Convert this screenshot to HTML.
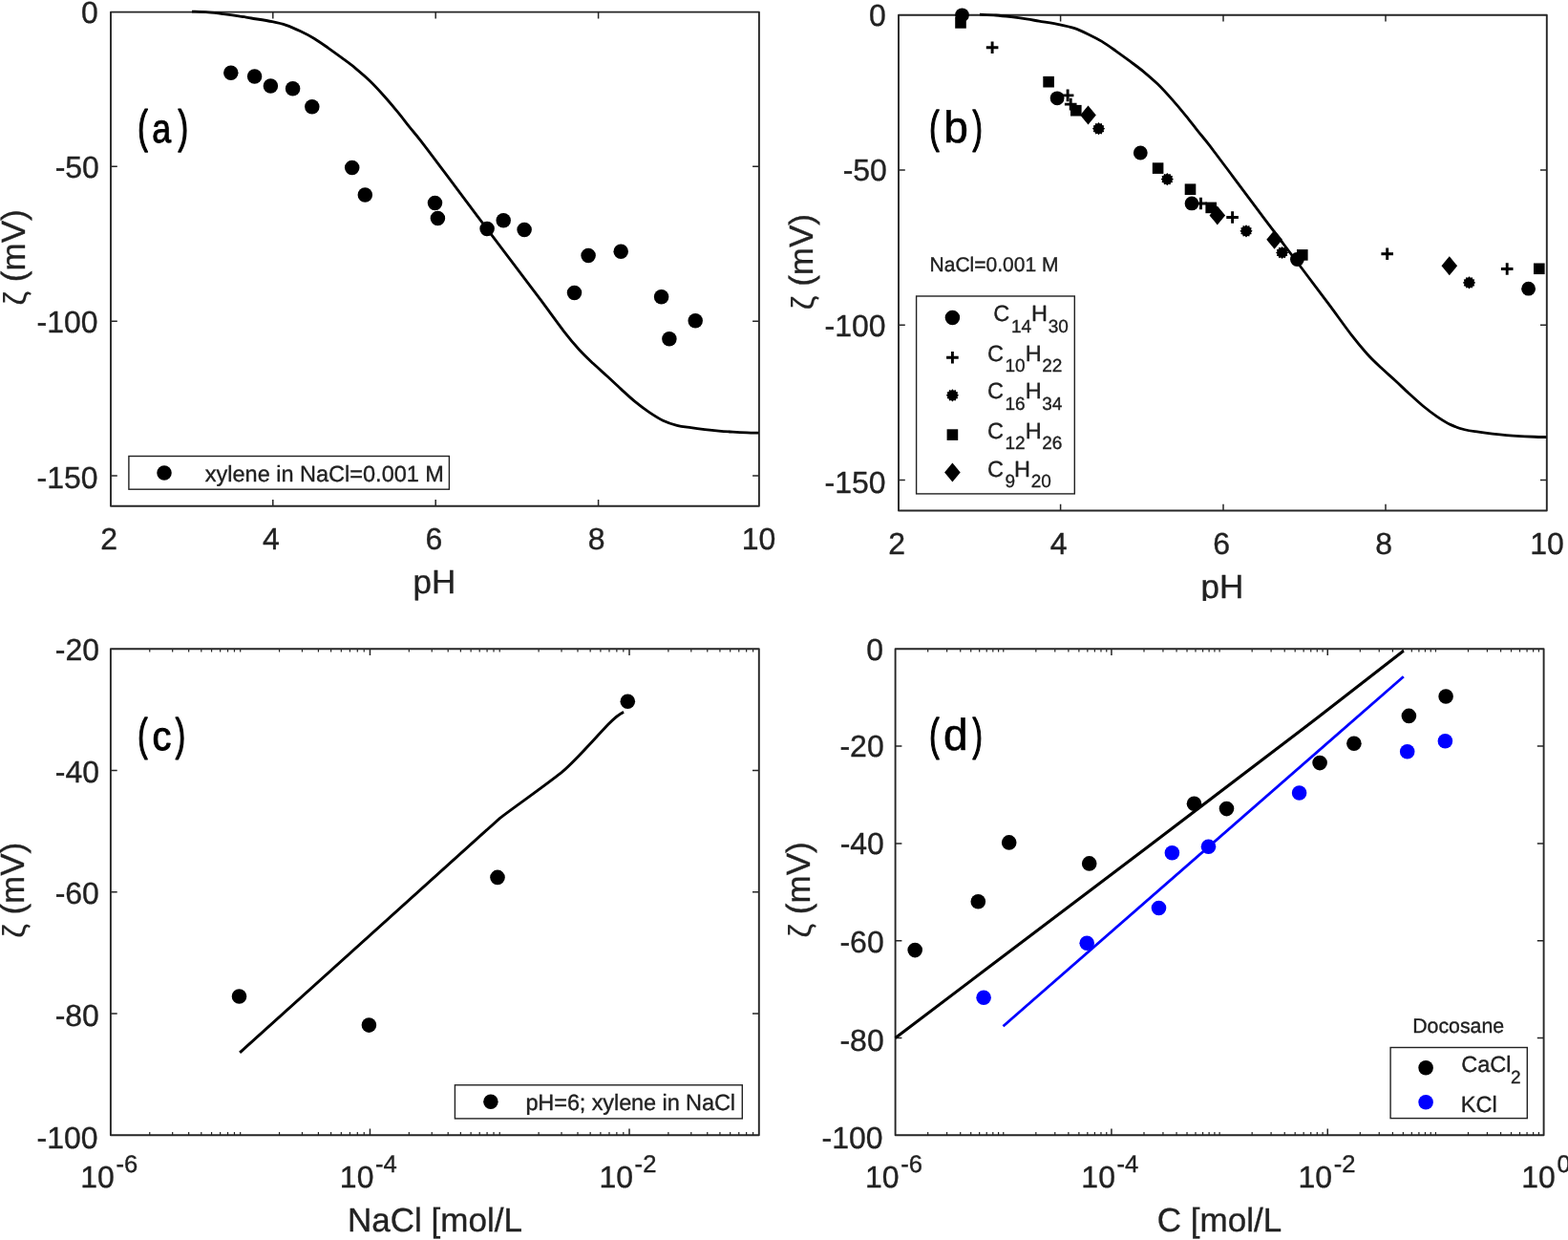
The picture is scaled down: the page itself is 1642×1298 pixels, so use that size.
<!DOCTYPE html>
<html lang="en">
<head>
<meta charset="utf-8">
<title>Zeta potential figure</title>
<style>
html,body{margin:0;padding:0;background:#fff;}
body{width:1642px;height:1298px;overflow:hidden;}
svg{display:block;font-family:'Liberation Sans', sans-serif;text-rendering:geometricPrecision;}
svg text{stroke:#1a1a1a;stroke-width:0.35px;}
</style>
</head>
<body>
<svg width="1642" height="1298" viewBox="0 0 1642 1298">
<rect width="1642" height="1298" fill="#fff"/>
<rect x="116" y="12.6" width="678.9" height="517.2" fill="none" stroke="#262626" stroke-width="1.9" stroke-linejoin="round"/>
<path d="M285.8 529.8v-6.8M285.8 12.6v6.8M456.2 529.8v-6.8M456.2 12.6v6.8M626.6 529.8v-6.8M626.6 12.6v6.8" stroke="#262626" stroke-width="1.5" fill="none"/>
<path d="M116 174.32h6.8M794.9 174.32h-6.8M116 336.25h6.8M794.9 336.25h-6.8M116 497.97h6.8M794.9 497.97h-6.8" stroke="#262626" stroke-width="1.5" fill="none"/>
<text x="102.8" y="24.4" font-size="32" text-anchor="end" fill="#222222">0</text>
<text x="103.9" y="186.32" font-size="32" text-anchor="end" fill="#222222">-50</text>
<text x="102.6" y="347.65" font-size="32" text-anchor="end" fill="#222222">-100</text>
<text x="102.6" y="511.37" font-size="32" text-anchor="end" fill="#222222">-150</text>
<text x="114.1" y="575.2" font-size="32" text-anchor="middle" fill="#222222">2</text>
<text x="283.9" y="575.2" font-size="32" text-anchor="middle" fill="#222222">4</text>
<text x="454.3" y="575.2" font-size="32" text-anchor="middle" fill="#222222">6</text>
<text x="624.7" y="575.2" font-size="32" text-anchor="middle" fill="#222222">8</text>
<text x="794.6" y="575.2" font-size="32" text-anchor="middle" fill="#222222">10</text>
<text x="454.8" y="620.8" font-size="35" text-anchor="middle" fill="#222222">pH</text>
<text transform="translate(25.6 270.9) rotate(-90)" font-size="35" text-anchor="middle" fill="#222222"><tspan font-size="33" dx="1.5" dy="1" style="stroke-width:0.1px">ζ</tspan><tspan dy="-1"> (mV)</tspan></text>
<path d="M201 12.1C203.83 12.23 212.52 12.48 218 12.9C223.48 13.32 228.57 13.95 233.9 14.6C239.23 15.25 245.13 16.07 250 16.8C254.87 17.53 257.27 18.02 263.1 19C268.93 19.98 278.92 21.48 285 22.7C291.08 23.92 294.72 24.67 299.6 26.3C304.48 27.93 309.42 30.18 314.3 32.5C319.18 34.82 324.03 37.27 328.9 40.2C333.77 43.13 338.63 46.68 343.5 50.1C348.37 53.52 353.23 57.08 358.1 60.7C362.97 64.32 367.82 67.78 372.7 71.8C377.58 75.82 382.52 80.05 387.4 84.8C392.28 89.55 397.13 94.87 402 100.3C406.87 105.73 412.07 111.88 416.6 117.4C421.13 122.92 425.13 128.32 429.2 133.4C433.27 138.48 434.97 140.1 441 147.9C447.03 155.7 455.57 167.13 465.4 180.2C475.23 193.27 487.27 209.4 500 226.3C512.73 243.2 530.77 267 541.8 281.6C552.83 296.2 558.08 303.03 566.2 313.9C574.32 324.77 583.78 338.12 590.5 346.8C597.22 355.48 601.38 360.37 606.5 366C611.62 371.63 616.32 375.97 621.2 380.6C626.08 385.23 630.93 389.33 635.8 393.8C640.67 398.27 645.53 402.97 650.4 407.4C655.27 411.83 660.13 416.4 665 420.4C669.87 424.4 674.72 428.1 679.6 431.4C684.48 434.7 689.42 437.88 694.3 440.2C699.18 442.52 704.03 444.05 708.9 445.3C713.77 446.55 718.63 446.98 723.5 447.7C728.37 448.42 733.23 449.03 738.1 449.6C742.97 450.17 747.82 450.68 752.7 451.1C757.58 451.52 762.52 451.82 767.4 452.1C772.28 452.38 777.48 452.63 782 452.8C786.52 452.97 792.42 453.05 794.5 453.1" stroke="#000" stroke-width="2.8" fill="none" stroke-linejoin="round"/>
<circle cx="241.8" cy="76.2" r="7.75" fill="#000"/>
<circle cx="266.6" cy="79.9" r="7.75" fill="#000"/>
<circle cx="283.4" cy="90.1" r="7.75" fill="#000"/>
<circle cx="306.6" cy="92.8" r="7.75" fill="#000"/>
<circle cx="326.8" cy="111.8" r="7.75" fill="#000"/>
<circle cx="368.7" cy="175.4" r="7.75" fill="#000"/>
<circle cx="382.3" cy="204.1" r="7.75" fill="#000"/>
<circle cx="455.5" cy="212.6" r="7.75" fill="#000"/>
<circle cx="458.4" cy="228.4" r="7.75" fill="#000"/>
<circle cx="510.1" cy="239.6" r="7.75" fill="#000"/>
<circle cx="527.2" cy="230.8" r="7.75" fill="#000"/>
<circle cx="549.1" cy="240.6" r="7.75" fill="#000"/>
<circle cx="601.5" cy="306.4" r="7.75" fill="#000"/>
<circle cx="616.1" cy="267.4" r="7.75" fill="#000"/>
<circle cx="650.2" cy="263.2" r="7.75" fill="#000"/>
<circle cx="692.6" cy="310.7" r="7.75" fill="#000"/>
<circle cx="700.9" cy="354.7" r="7.75" fill="#000"/>
<circle cx="728.2" cy="335.8" r="7.75" fill="#000"/>
<g fill="#000" font-size="47.9"><text style="stroke:#000;stroke-width:1.5px;stroke-linejoin:round;vector-effect:non-scaling-stroke" transform="translate(144.15 149.05) scale(0.66 1)">(</text><text style="stroke:#000;stroke-width:1.0px;stroke-linejoin:round;vector-effect:non-scaling-stroke" transform="translate(159.2 149.4) scale(0.84 1)" font-size="42.5">a</text><text style="stroke:#000;stroke-width:1.5px;stroke-linejoin:round;vector-effect:non-scaling-stroke" transform="translate(186.45 149.05) scale(0.66 1)">)</text></g>
<rect x="134.9" y="477.5" width="335.5" height="34.7" fill="#fff" stroke="#222222" stroke-width="1.4"/>
<circle cx="172" cy="495.1" r="7.75" fill="#000"/>
<text x="214.8" y="503.9" font-size="23.5" text-anchor="start" fill="#222222">xylene in NaCl=0.001 M</text>
<rect x="941" y="15.7" width="678.8" height="518.8" fill="none" stroke="#262626" stroke-width="1.9" stroke-linejoin="round"/>
<path d="M1110.6 534.5v-6.8M1110.6 15.7v6.8M1281 534.5v-6.8M1281 15.7v6.8M1451 534.5v-6.8M1451 15.7v6.8" stroke="#262626" stroke-width="1.5" fill="none"/>
<path d="M941 177.92h6.8M1619.8 177.92h-6.8M941 340.35h6.8M1619.8 340.35h-6.8M941 502.57h6.8M1619.8 502.57h-6.8" stroke="#262626" stroke-width="1.5" fill="none"/>
<text x="927.8" y="27.2" font-size="32" text-anchor="end" fill="#222222">0</text>
<text x="928.9" y="189.42" font-size="32" text-anchor="end" fill="#222222">-50</text>
<text x="927.6" y="351.75" font-size="32" text-anchor="end" fill="#222222">-100</text>
<text x="927.6" y="515.88" font-size="32" text-anchor="end" fill="#222222">-150</text>
<text x="939.1" y="580" font-size="32" text-anchor="middle" fill="#222222">2</text>
<text x="1108.7" y="580" font-size="32" text-anchor="middle" fill="#222222">4</text>
<text x="1279.1" y="580" font-size="32" text-anchor="middle" fill="#222222">6</text>
<text x="1449.1" y="580" font-size="32" text-anchor="middle" fill="#222222">8</text>
<text x="1620.1" y="580" font-size="32" text-anchor="middle" fill="#222222">10</text>
<text x="1279.9" y="625.6" font-size="35" text-anchor="middle" fill="#222222">pH</text>
<rect x="1200" y="629" width="160" height="20" fill="#fff"/>
<text transform="translate(850.6 275.6) rotate(-90)" font-size="35" text-anchor="middle" fill="#222222"><tspan font-size="33" dx="1.5" dy="1" style="stroke-width:0.1px">ζ</tspan><tspan dy="-1"> (mV)</tspan></text>
<path d="M1025.99 15.2C1028.82 15.33 1037.5 15.58 1042.98 16C1048.47 16.42 1053.55 17.05 1058.88 17.71C1064.22 18.36 1070.11 19.18 1074.98 19.91C1079.85 20.65 1082.25 21.13 1088.08 22.12C1093.91 23.11 1103.89 24.61 1109.98 25.83C1116.06 27.05 1119.69 27.8 1124.57 29.44C1129.46 31.08 1134.39 33.34 1139.27 35.66C1144.15 37.99 1149 40.44 1153.87 43.39C1158.73 46.33 1163.6 49.89 1168.47 53.32C1173.33 56.74 1178.2 60.32 1183.06 63.95C1187.93 67.58 1192.78 71.05 1197.66 75.08C1202.54 79.11 1207.48 83.36 1212.36 88.12C1217.24 92.89 1222.09 98.22 1226.96 103.67C1231.82 109.12 1237.02 115.29 1241.56 120.82C1246.09 126.36 1250.09 131.77 1254.15 136.87C1258.22 141.97 1259.92 143.59 1265.95 151.42C1271.98 159.24 1280.52 170.71 1290.35 183.82C1300.18 196.93 1312.21 213.11 1324.94 230.06C1337.67 247.01 1355.71 270.89 1366.74 285.53C1377.77 300.18 1383.02 307.03 1391.13 317.93C1399.25 328.83 1408.71 342.22 1415.43 350.93C1422.15 359.64 1426.31 364.54 1431.43 370.19C1436.54 375.84 1441.24 380.19 1446.13 384.84C1451.01 389.49 1455.86 393.6 1460.72 398.08C1465.59 402.56 1470.46 407.27 1475.32 411.72C1480.19 416.17 1485.05 420.75 1489.92 424.76C1494.79 428.77 1499.63 432.49 1504.52 435.8C1509.4 439.11 1514.33 442.3 1519.21 444.62C1524.1 446.95 1528.95 448.48 1533.81 449.74C1538.68 450.99 1543.54 451.43 1548.41 452.15C1553.28 452.86 1558.14 453.48 1563.01 454.05C1567.87 454.62 1572.72 455.14 1577.61 455.56C1582.49 455.97 1587.42 456.28 1592.3 456.56C1597.19 456.84 1602.39 457.09 1606.9 457.26C1611.42 457.43 1617.32 457.51 1619.4 457.56" stroke="#000" stroke-width="2.8" fill="none" stroke-linejoin="round"/>
<circle cx="1007.5" cy="15.8" r="7.4" fill="#000"/>
<circle cx="1107.1" cy="102.8" r="7.4" fill="#000"/>
<circle cx="1194.3" cy="160" r="7.4" fill="#000"/>
<circle cx="1248" cy="212.9" r="7.4" fill="#000"/>
<circle cx="1358.4" cy="271.5" r="7.4" fill="#000"/>
<circle cx="1600.6" cy="302.2" r="7.4" fill="#000"/>
<rect x="1000.2" y="18.1" width="11.6" height="11.6" fill="#000"/>
<rect x="1092.3" y="79.9" width="11.6" height="11.6" fill="#000"/>
<rect x="1121" y="109.9" width="11.6" height="11.6" fill="#000"/>
<rect x="1206.8" y="170.3" width="11.6" height="11.6" fill="#000"/>
<rect x="1240.7" y="192.4" width="11.6" height="11.6" fill="#000"/>
<rect x="1262.4" y="211.6" width="11.6" height="11.6" fill="#000"/>
<rect x="1358" y="261.1" width="11.6" height="11.6" fill="#000"/>
<rect x="1606" y="275.5" width="11.6" height="11.6" fill="#000"/>
<path d="M1032.8 49.7h12.6M1039.1 43.4v12.6" stroke="#000" stroke-width="2.9" fill="none"/>
<path d="M1111.8 99.9h12.6M1118.1 93.6v12.6" stroke="#000" stroke-width="2.9" fill="none"/>
<path d="M1114.9 109.1h12.6M1121.2 102.8v12.6" stroke="#000" stroke-width="2.9" fill="none"/>
<path d="M1251.2 213h12.6M1257.5 206.7v12.6" stroke="#000" stroke-width="2.9" fill="none"/>
<path d="M1284.3 227.5h12.6M1290.6 221.2v12.6" stroke="#000" stroke-width="2.9" fill="none"/>
<path d="M1446.4 265.7h12.6M1452.7 259.4v12.6" stroke="#000" stroke-width="2.9" fill="none"/>
<path d="M1571.9 281.5h12.6M1578.2 275.2v12.6" stroke="#000" stroke-width="2.9" fill="none"/>
<path d="M1139.5 110.6L1147.8 120.6L1139.5 130.6L1131.2 120.6Z" fill="#000"/>
<path d="M1274.8 215.4L1283.1 225.4L1274.8 235.4L1266.5 225.4Z" fill="#000"/>
<path d="M1334.6 240.8L1342.9 250.8L1334.6 260.8L1326.3 250.8Z" fill="#000"/>
<path d="M1517.8 268.3L1526.1 278.3L1517.8 288.3L1509.5 278.3Z" fill="#000"/>
<path d="M1157.1 134.7L1155.6 136.07L1156.22 138L1154.23 138.43L1153.8 140.42L1151.87 139.8L1150.5 141.3L1149.13 139.8L1147.2 140.42L1146.77 138.43L1144.78 138L1145.4 136.07L1143.9 134.7L1145.4 133.33L1144.78 131.4L1146.77 130.97L1147.2 128.98L1149.13 129.6L1150.5 128.1L1151.87 129.6L1153.8 128.98L1154.23 130.97L1156.22 131.4L1155.6 133.33Z" fill="#000"/>
<path d="M1228.9 187.6L1227.4 188.97L1228.02 190.9L1226.03 191.33L1225.6 193.32L1223.67 192.7L1222.3 194.2L1220.93 192.7L1219 193.32L1218.57 191.33L1216.58 190.9L1217.2 188.97L1215.7 187.6L1217.2 186.23L1216.58 184.3L1218.57 183.87L1219 181.88L1220.93 182.5L1222.3 181L1223.67 182.5L1225.6 181.88L1226.03 183.87L1228.02 184.3L1227.4 186.23Z" fill="#000"/>
<path d="M1311.6 241.8L1310.1 243.17L1310.72 245.1L1308.73 245.53L1308.3 247.52L1306.37 246.9L1305 248.4L1303.63 246.9L1301.7 247.52L1301.27 245.53L1299.28 245.1L1299.9 243.17L1298.4 241.8L1299.9 240.43L1299.28 238.5L1301.27 238.07L1301.7 236.08L1303.63 236.7L1305 235.2L1306.37 236.7L1308.3 236.08L1308.73 238.07L1310.72 238.5L1310.1 240.43Z" fill="#000"/>
<path d="M1349.2 264.5L1347.7 265.87L1348.32 267.8L1346.33 268.23L1345.9 270.22L1343.97 269.6L1342.6 271.1L1341.23 269.6L1339.3 270.22L1338.87 268.23L1336.88 267.8L1337.5 265.87L1336 264.5L1337.5 263.13L1336.88 261.2L1338.87 260.77L1339.3 258.78L1341.23 259.4L1342.6 257.9L1343.97 259.4L1345.9 258.78L1346.33 260.77L1348.32 261.2L1347.7 263.13Z" fill="#000"/>
<path d="M1545.1 295.9L1543.6 297.27L1544.22 299.2L1542.23 299.63L1541.8 301.62L1539.87 301L1538.5 302.5L1537.13 301L1535.2 301.62L1534.77 299.63L1532.78 299.2L1533.4 297.27L1531.9 295.9L1533.4 294.53L1532.78 292.6L1534.77 292.17L1535.2 290.18L1537.13 290.8L1538.5 289.3L1539.87 290.8L1541.8 290.18L1542.23 292.17L1544.22 292.6L1543.6 294.53Z" fill="#000"/>
<g fill="#000" font-size="46.9"><text style="stroke:#000;stroke-width:1.5px;stroke-linejoin:round;vector-effect:non-scaling-stroke" transform="translate(973.15 148.65) scale(0.66 1)">(</text><text style="stroke:#000;stroke-width:0.6px;stroke-linejoin:round;vector-effect:non-scaling-stroke" transform="translate(988.3 149) scale(0.99 1)" font-size="46.5">b</text><text style="stroke:#000;stroke-width:1.5px;stroke-linejoin:round;vector-effect:non-scaling-stroke" transform="translate(1018.55 148.65) scale(0.66 1)">)</text></g>
<text x="973.6" y="283.8" font-size="21" text-anchor="start" fill="#222222">NaCl=0.001 M</text>
<rect x="959.6" y="310" width="165.7" height="206.9" fill="#fff" stroke="#222222" stroke-width="1.4"/>
<circle cx="997.4" cy="332.4" r="7.75" fill="#000"/>
<path d="M991.1 374.2h12.6M997.4 367.9v12.6" stroke="#000" stroke-width="2.9" fill="none"/>
<path d="M1004 413.8L1002.5 415.17L1003.12 417.1L1001.13 417.53L1000.7 419.52L998.77 418.9L997.4 420.4L996.03 418.9L994.1 419.52L993.67 417.53L991.68 417.1L992.3 415.17L990.8 413.8L992.3 412.43L991.68 410.5L993.67 410.07L994.1 408.08L996.03 408.7L997.4 407.2L998.77 408.7L1000.7 408.08L1001.13 410.07L1003.12 410.5L1002.5 412.43Z" fill="#000"/>
<rect x="991.6" y="449.3" width="11.6" height="11.6" fill="#000"/>
<path d="M997.4 484.5L1005.7 494.5L997.4 504.5L989.1 494.5Z" fill="#000"/>
<text fill="#222222" font-size="23.5"><tspan x="1040.2" y="336.2">C</tspan><tspan x="1058.9" y="347.6" font-size="19">14</tspan><tspan x="1079.9" y="336.2">H</tspan><tspan x="1097.8" y="347.6" font-size="19">30</tspan></text>
<text fill="#222222" font-size="23.5"><tspan x="1034" y="377.6">C</tspan><tspan x="1052.5" y="389" font-size="19">10</tspan><tspan x="1073.7" y="377.6">H</tspan><tspan x="1091.2" y="389" font-size="19">22</tspan></text>
<text fill="#222222" font-size="23.5"><tspan x="1034" y="417.1">C</tspan><tspan x="1052.5" y="428.5" font-size="19">16</tspan><tspan x="1073.7" y="417.1">H</tspan><tspan x="1091.2" y="428.5" font-size="19">34</tspan></text>
<text fill="#222222" font-size="23.5"><tspan x="1034" y="458.5">C</tspan><tspan x="1052.5" y="469.9" font-size="19">12</tspan><tspan x="1073.7" y="458.5">H</tspan><tspan x="1091.2" y="469.9" font-size="19">26</tspan></text>
<text fill="#222222" font-size="23.5"><tspan x="1034" y="498.6">C</tspan><tspan x="1052.5" y="510" font-size="19">9</tspan><tspan x="1062" y="498.6">H</tspan><tspan x="1079.8" y="510" font-size="19">20</tspan></text>
<rect x="115.9" y="679.3" width="678.9" height="509" fill="none" stroke="#262626" stroke-width="1.9" stroke-linejoin="round"/>
<path d="M387.46 1188.3v-6.8M387.46 679.3v6.8M659.02 1188.3v-6.8M659.02 679.3v6.8" stroke="#262626" stroke-width="1.5" fill="none"/>
<path d="M156.77 1188.3v-3.3M156.77 679.3v3.3M180.68 1188.3v-3.3M180.68 679.3v3.3M197.65 1188.3v-3.3M197.65 679.3v3.3M210.81 1188.3v-3.3M210.81 679.3v3.3M221.56 1188.3v-3.3M221.56 679.3v3.3M230.65 1188.3v-3.3M230.65 679.3v3.3M238.52 1188.3v-3.3M238.52 679.3v3.3M245.47 1188.3v-3.3M245.47 679.3v3.3M292.55 1188.3v-3.3M292.55 679.3v3.3M316.46 1188.3v-3.3M316.46 679.3v3.3M333.43 1188.3v-3.3M333.43 679.3v3.3M346.59 1188.3v-3.3M346.59 679.3v3.3M357.34 1188.3v-3.3M357.34 679.3v3.3M366.43 1188.3v-3.3M366.43 679.3v3.3M374.3 1188.3v-3.3M374.3 679.3v3.3M381.25 1188.3v-3.3M381.25 679.3v3.3M251.68 1188.3v-3.3M251.68 679.3v3.3M428.33 1188.3v-3.3M428.33 679.3v3.3M452.24 1188.3v-3.3M452.24 679.3v3.3M469.21 1188.3v-3.3M469.21 679.3v3.3M482.37 1188.3v-3.3M482.37 679.3v3.3M493.12 1188.3v-3.3M493.12 679.3v3.3M502.21 1188.3v-3.3M502.21 679.3v3.3M510.08 1188.3v-3.3M510.08 679.3v3.3M517.03 1188.3v-3.3M517.03 679.3v3.3M564.11 1188.3v-3.3M564.11 679.3v3.3M588.02 1188.3v-3.3M588.02 679.3v3.3M604.99 1188.3v-3.3M604.99 679.3v3.3M618.15 1188.3v-3.3M618.15 679.3v3.3M628.9 1188.3v-3.3M628.9 679.3v3.3M637.99 1188.3v-3.3M637.99 679.3v3.3M645.86 1188.3v-3.3M645.86 679.3v3.3M652.81 1188.3v-3.3M652.81 679.3v3.3M523.24 1188.3v-3.3M523.24 679.3v3.3M699.89 1188.3v-3.3M699.89 679.3v3.3M723.8 1188.3v-3.3M723.8 679.3v3.3M740.77 1188.3v-3.3M740.77 679.3v3.3M753.93 1188.3v-3.3M753.93 679.3v3.3M764.68 1188.3v-3.3M764.68 679.3v3.3M773.77 1188.3v-3.3M773.77 679.3v3.3M781.64 1188.3v-3.3M781.64 679.3v3.3M788.59 1188.3v-3.3M788.59 679.3v3.3" stroke="#262626" stroke-width="1.2" fill="none"/>
<path d="M115.9 806.55h6.8M794.8 806.55h-6.8M115.9 933.8h6.8M794.8 933.8h-6.8M115.9 1061.05h6.8M794.8 1061.05h-6.8" stroke="#262626" stroke-width="1.5" fill="none"/>
<text x="104" y="691.4" font-size="32" text-anchor="end" fill="#222222">-20</text>
<text x="104" y="818.75" font-size="32" text-anchor="end" fill="#222222">-40</text>
<text x="103.9" y="946.4" font-size="32" text-anchor="end" fill="#222222">-60</text>
<text x="103.9" y="1074.05" font-size="32" text-anchor="end" fill="#222222">-80</text>
<text x="102.6" y="1201.6" font-size="32" text-anchor="end" fill="#222222">-100</text>
<text x="119.9" y="1243" font-size="32" text-anchor="end" fill="#222222">10</text>
<text x="121.5" y="1227" font-size="25.6" text-anchor="start" fill="#222222">-6</text>
<text x="391.46" y="1243" font-size="32" text-anchor="end" fill="#222222">10</text>
<text x="393.06" y="1227" font-size="25.6" text-anchor="start" fill="#222222">-4</text>
<text x="663.02" y="1243" font-size="32" text-anchor="end" fill="#222222">10</text>
<text x="664.62" y="1227" font-size="25.6" text-anchor="start" fill="#222222">-2</text>
<text x="455.5" y="1289.2" font-size="35" text-anchor="middle" fill="#222222">NaCl [mol/L</text>
<text transform="translate(25.4 933.3) rotate(-90)" font-size="35" text-anchor="middle" fill="#222222"><tspan font-size="33" dx="1.5" dy="1" style="stroke-width:0.1px">ζ</tspan><tspan dy="-1"> (mV)</tspan></text>
<path d="M251.1 1101.9L523.6 856.3C545 840 566 826 588.3 808.4C604 795 620 776 636.9 758.3C643 752 648 747.5 653.1 745.3" stroke="#000" stroke-width="2.9" fill="none"/>
<circle cx="250.5" cy="1043" r="7.8" fill="#000"/>
<circle cx="386.4" cy="1073.1" r="7.8" fill="#000"/>
<circle cx="521" cy="918.4" r="7.8" fill="#000"/>
<circle cx="657.3" cy="734.3" r="7.8" fill="#000"/>
<g fill="#000" font-size="46.9"><text style="stroke:#000;stroke-width:1.5px;stroke-linejoin:round;vector-effect:non-scaling-stroke" transform="translate(144.15 784.85) scale(0.66 1)">(</text><text style="stroke:#000;stroke-width:1.0px;stroke-linejoin:round;vector-effect:non-scaling-stroke" transform="translate(159.4 785.2) scale(0.935 1)" font-size="42.5">c</text><text style="stroke:#000;stroke-width:1.5px;stroke-linejoin:round;vector-effect:non-scaling-stroke" transform="translate(183.65 784.85) scale(0.66 1)">)</text></g>
<rect x="476.4" y="1135.8" width="300.9" height="35.1" fill="#fff" stroke="#222222" stroke-width="1.4"/>
<circle cx="513.9" cy="1153.3" r="7.75" fill="#000"/>
<text x="550.4" y="1162.3" font-size="23.5" text-anchor="start" fill="#222222" textLength="219.6" lengthAdjust="spacing">pH=6; xylene in NaCl</text>
<rect x="937.6" y="679.3" width="679" height="509" fill="none" stroke="#262626" stroke-width="1.9" stroke-linejoin="round"/>
<path d="M1163.93 1188.3v-6.8M1163.93 679.3v6.8M1390.27 1188.3v-6.8M1390.27 679.3v6.8" stroke="#262626" stroke-width="1.5" fill="none"/>
<path d="M971.67 1188.3v-3.3M971.67 679.3v3.3M991.59 1188.3v-3.3M991.59 679.3v3.3M1005.73 1188.3v-3.3M1005.73 679.3v3.3M1016.7 1188.3v-3.3M1016.7 679.3v3.3M1025.66 1188.3v-3.3M1025.66 679.3v3.3M1033.24 1188.3v-3.3M1033.24 679.3v3.3M1039.8 1188.3v-3.3M1039.8 679.3v3.3M1045.59 1188.3v-3.3M1045.59 679.3v3.3M1084.83 1188.3v-3.3M1084.83 679.3v3.3M1104.76 1188.3v-3.3M1104.76 679.3v3.3M1118.9 1188.3v-3.3M1118.9 679.3v3.3M1129.87 1188.3v-3.3M1129.87 679.3v3.3M1138.83 1188.3v-3.3M1138.83 679.3v3.3M1146.4 1188.3v-3.3M1146.4 679.3v3.3M1152.97 1188.3v-3.3M1152.97 679.3v3.3M1158.76 1188.3v-3.3M1158.76 679.3v3.3M1050.77 1188.3v-3.3M1050.77 679.3v3.3M1198 1188.3v-3.3M1198 679.3v3.3M1217.93 1188.3v-3.3M1217.93 679.3v3.3M1232.07 1188.3v-3.3M1232.07 679.3v3.3M1243.03 1188.3v-3.3M1243.03 679.3v3.3M1251.99 1188.3v-3.3M1251.99 679.3v3.3M1259.57 1188.3v-3.3M1259.57 679.3v3.3M1266.13 1188.3v-3.3M1266.13 679.3v3.3M1271.92 1188.3v-3.3M1271.92 679.3v3.3M1311.17 1188.3v-3.3M1311.17 679.3v3.3M1331.09 1188.3v-3.3M1331.09 679.3v3.3M1345.23 1188.3v-3.3M1345.23 679.3v3.3M1356.2 1188.3v-3.3M1356.2 679.3v3.3M1365.16 1188.3v-3.3M1365.16 679.3v3.3M1372.74 1188.3v-3.3M1372.74 679.3v3.3M1379.3 1188.3v-3.3M1379.3 679.3v3.3M1385.09 1188.3v-3.3M1385.09 679.3v3.3M1277.1 1188.3v-3.3M1277.1 679.3v3.3M1424.33 1188.3v-3.3M1424.33 679.3v3.3M1444.26 1188.3v-3.3M1444.26 679.3v3.3M1458.4 1188.3v-3.3M1458.4 679.3v3.3M1469.37 1188.3v-3.3M1469.37 679.3v3.3M1478.33 1188.3v-3.3M1478.33 679.3v3.3M1485.9 1188.3v-3.3M1485.9 679.3v3.3M1492.47 1188.3v-3.3M1492.47 679.3v3.3M1498.26 1188.3v-3.3M1498.26 679.3v3.3M1537.5 1188.3v-3.3M1537.5 679.3v3.3M1557.43 1188.3v-3.3M1557.43 679.3v3.3M1571.57 1188.3v-3.3M1571.57 679.3v3.3M1582.53 1188.3v-3.3M1582.53 679.3v3.3M1591.49 1188.3v-3.3M1591.49 679.3v3.3M1599.07 1188.3v-3.3M1599.07 679.3v3.3M1605.63 1188.3v-3.3M1605.63 679.3v3.3M1611.42 1188.3v-3.3M1611.42 679.3v3.3M1503.43 1188.3v-3.3M1503.43 679.3v3.3" stroke="#262626" stroke-width="1.2" fill="none"/>
<path d="M937.6 781.1h6.8M1616.6 781.1h-6.8M937.6 882.9h6.8M1616.6 882.9h-6.8M937.6 984.7h6.8M1616.6 984.7h-6.8M937.6 1086.5h6.8M1616.6 1086.5h-6.8" stroke="#262626" stroke-width="1.5" fill="none"/>
<text x="925" y="690.7" font-size="32" text-anchor="end" fill="#222222">0</text>
<text x="925.7" y="792.4" font-size="32" text-anchor="end" fill="#222222">-20</text>
<text x="925.9" y="894.3" font-size="32" text-anchor="end" fill="#222222">-40</text>
<text x="925.7" y="997.4" font-size="32" text-anchor="end" fill="#222222">-60</text>
<text x="925.7" y="1099.9" font-size="32" text-anchor="end" fill="#222222">-80</text>
<text x="924.6" y="1201.6" font-size="32" text-anchor="end" fill="#222222">-100</text>
<text x="941.6" y="1243" font-size="32" text-anchor="end" fill="#222222">10</text>
<text x="943.2" y="1227" font-size="25.6" text-anchor="start" fill="#222222">-6</text>
<text x="1167.93" y="1243" font-size="32" text-anchor="end" fill="#222222">10</text>
<text x="1169.53" y="1227" font-size="25.6" text-anchor="start" fill="#222222">-4</text>
<text x="1395.07" y="1243" font-size="32" text-anchor="end" fill="#222222">10</text>
<text x="1396.67" y="1227" font-size="25.6" text-anchor="start" fill="#222222">-2</text>
<text x="1628.8" y="1243" font-size="32" text-anchor="end" fill="#222222">10</text>
<text x="1630.4" y="1227" font-size="25.6" text-anchor="start" fill="#222222">0</text>
<text x="1277" y="1289.2" font-size="35" text-anchor="middle" fill="#222222">C [mol/L</text>
<text transform="translate(848.1 932.9) rotate(-90)" font-size="35" text-anchor="middle" fill="#222222"><tspan font-size="33" dx="1.5" dy="1" style="stroke-width:0.1px">ζ</tspan><tspan dy="-1"> (mV)</tspan></text>
<path d="M937.6 1086.4L1200 887.9L1380 751.1L1469.8 681.3" stroke="#000" stroke-width="3.1" fill="none"/>
<line x1="1050.5" y1="1074.2" x2="1469.8" y2="708.2" stroke="#0000ff" stroke-width="2.8" stroke-linecap="butt"/>
<circle cx="958.2" cy="994.6" r="7.8" fill="#000"/>
<circle cx="1024.3" cy="943.8" r="7.8" fill="#000"/>
<circle cx="1056.7" cy="881.9" r="7.8" fill="#000"/>
<circle cx="1140.7" cy="903.9" r="7.8" fill="#000"/>
<circle cx="1250.5" cy="841.3" r="7.8" fill="#000"/>
<circle cx="1284.5" cy="846.6" r="7.8" fill="#000"/>
<circle cx="1382.1" cy="798.6" r="7.8" fill="#000"/>
<circle cx="1417.9" cy="778.2" r="7.8" fill="#000"/>
<circle cx="1475.4" cy="749.4" r="7.8" fill="#000"/>
<circle cx="1514.1" cy="729" r="7.8" fill="#000"/>
<circle cx="1030.1" cy="1044.3" r="7.8" fill="#0000ff"/>
<circle cx="1138.2" cy="987.2" r="7.8" fill="#0000ff"/>
<circle cx="1213.5" cy="950.5" r="7.8" fill="#0000ff"/>
<circle cx="1227.4" cy="892.7" r="7.8" fill="#0000ff"/>
<circle cx="1265.5" cy="886.3" r="7.8" fill="#0000ff"/>
<circle cx="1360.6" cy="830" r="7.8" fill="#0000ff"/>
<circle cx="1473.7" cy="786.7" r="7.8" fill="#0000ff"/>
<circle cx="1513.4" cy="775.7" r="7.8" fill="#0000ff"/>
<g fill="#000" font-size="46.9"><text style="stroke:#000;stroke-width:1.5px;stroke-linejoin:round;vector-effect:non-scaling-stroke" transform="translate(973.15 784.85) scale(0.66 1)">(</text><text style="stroke:#000;stroke-width:0.6px;stroke-linejoin:round;vector-effect:non-scaling-stroke" transform="translate(987.9 785.2) scale(0.99 1)" font-size="46.4">d</text><text style="stroke:#000;stroke-width:1.5px;stroke-linejoin:round;vector-effect:non-scaling-stroke" transform="translate(1018.55 784.85) scale(0.66 1)">)</text></g>
<text x="1479.2" y="1081.2" font-size="21.3" text-anchor="start" fill="#222222">Docosane</text>
<rect x="1456.1" y="1096.5" width="143.2" height="74.1" fill="#fff" stroke="#222222" stroke-width="1.4"/>
<circle cx="1493.1" cy="1117.7" r="7.8" fill="#000"/>
<circle cx="1493.1" cy="1153.7" r="7.8" fill="#0000ff"/>
<text fill="#222222" font-size="23.5"><tspan x="1530.2" y="1121.9">CaCl</tspan><tspan x="1582" y="1134.1" font-size="19">2</tspan></text>
<text x="1529.8" y="1164" font-size="23.5" text-anchor="start" fill="#222222">KCl</text>
</svg>
</body>
</html>
